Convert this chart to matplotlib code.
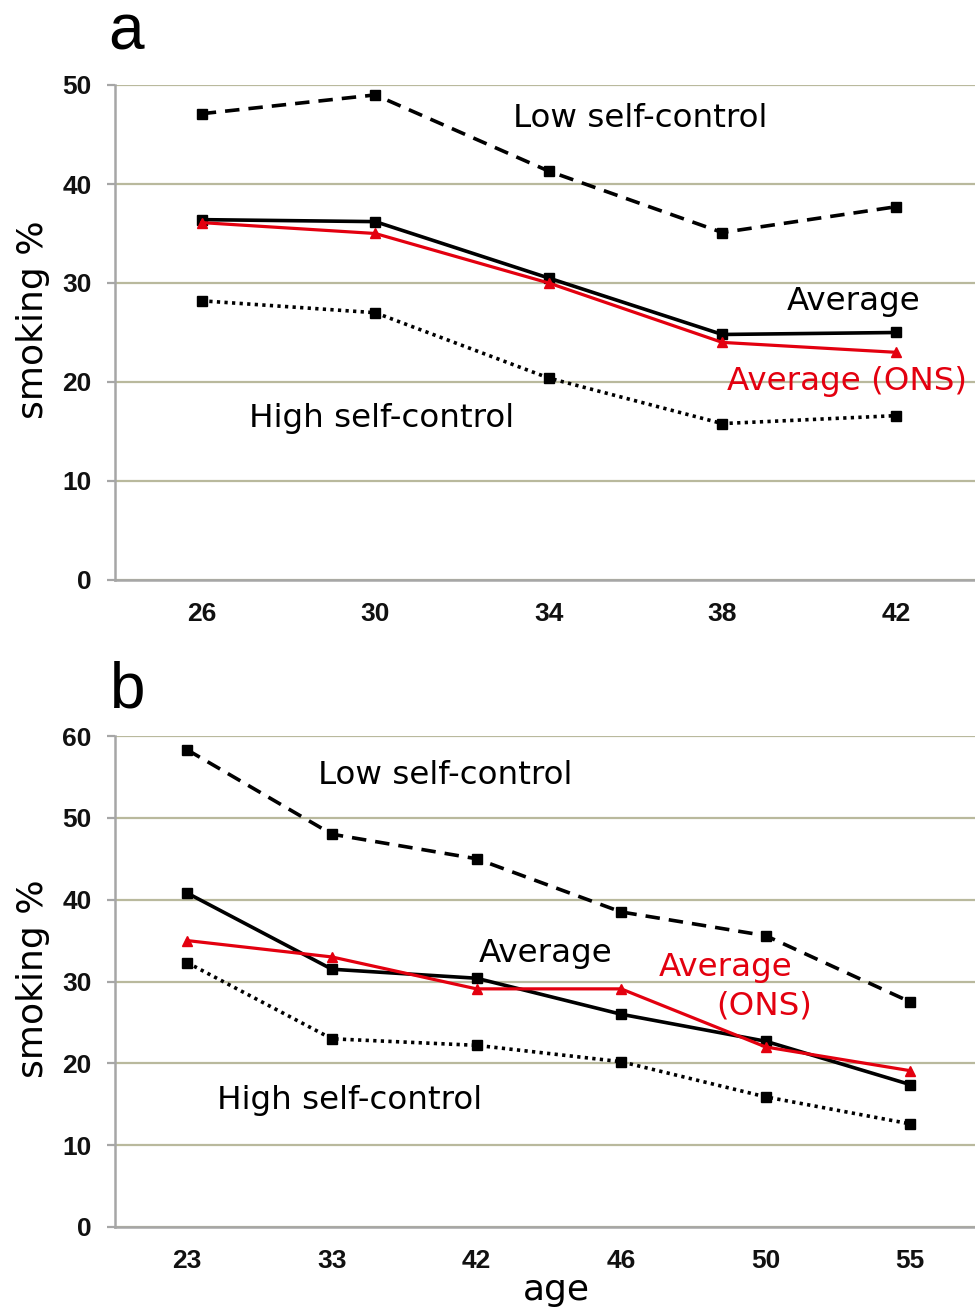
import matplotlib
matplotlib.use("Agg")
import matplotlib.pyplot as plt

# ---- data ----
ages_a = ["26", "30", "34", "38", "42"]
low_a = [47.1, 49.0, 41.3, 35.1, 37.7]
avg_a = [36.4, 36.2, 30.5, 24.8, 25.0]
ons_a = [36.1, 35.0, 30.0, 24.0, 23.0]
high_a = [28.2, 27.0, 20.4, 15.8, 16.6]

ages_b = ["23", "33", "42", "46", "50", "55"]
low_b = [58.3, 48.0, 45.0, 38.5, 35.6, 27.5]
avg_b = [40.8, 31.5, 30.4, 26.0, 22.7, 17.4]
ons_b = [35.0, 33.0, 29.1, 29.1, 22.0, 19.1]
high_b = [32.3, 23.0, 22.2, 20.2, 15.9, 12.6]

W, H = 975, 1308
fig = plt.figure(figsize=(W / 100, H / 100), dpi=100)

RED = "#e3000f"
GRID = "#b9b99d"
SPINE = "#a6a6a6"
TICKFONT = "Liberation Sans"
ANNFONT = "DejaVu Sans"


def make_axes(left, top, right, bottom):
    return fig.add_axes([left / W, 1 - bottom / H, (right - left) / W, (bottom - top) / H])


def style(ax, ymax, ncat, cat_px, label_y):
    ax.set_ylim(0, ymax)
    ax.set_xlim(-0.5, -0.5 + (975 - 115) / cat_px)
    ax.set_yticks(range(0, ymax + 1, 10))
    ax.yaxis.grid(True, color=GRID, linewidth=1.6)
    ax.set_axisbelow(True)
    for s in ["top", "right"]:
        ax.spines[s].set_visible(False)
    for s in ["left", "bottom"]:
        ax.spines[s].set_color(SPINE)
        ax.spines[s].set_linewidth(1.8)
    ax.tick_params(axis="y", length=6, width=1.6, color=SPINE, pad=11,
                   labelsize=19)
    ax.tick_params(axis="x", length=0, pad=16, labelsize=19)
    for lab in ax.get_xticklabels() + ax.get_yticklabels():
        lab.set_fontfamily(TICKFONT)
        lab.set_fontweight("bold")
        lab.set_color("#111111")
    ax.set_ylabel("smoking %", fontsize=26, family=ANNFONT)
    ax.yaxis.set_label_coords(-0.076, label_y)


def draw(ax, ages, low, avg, ons, high):
    ax.plot(ages, low, color="black", lw=2.6, ls=(0, (4, 2.5)), marker="s", ms=7.5)
    ax.plot(ages, high, color="black", lw=2.6, ls=(0, (0.9, 1.2)), marker="s", ms=7.5)
    ax.plot(ages, avg, color="black", lw=2.6, marker="s", ms=7.5)
    ax.plot(ages, ons, color=RED, lw=2.3, marker="^", ms=7.5)


tk = dict(fontsize=23.4, family=ANNFONT, va="center", ha="left")

# panel a
axa = make_axes(115, 85, 975, 580)
draw(axa, ages_a, low_a, avg_a, ons_a, high_a)
style(axa, 50, len(ages_a), 173.5, 0.525)
axa.text(1.794, 46.6, "Low self-control", **tk)
axa.text(3.373, 28.1, "Average", **tk)
axa.text(3.027, 20.1, "Average (ONS)", color=RED, **tk)
axa.text(0.272, 16.3, "High self-control", **tk)

# panel b
axb = make_axes(115, 736, 975, 1227)
draw(axb, ages_b, low_b, avg_b, ons_b, high_b)
style(axb, 60, len(ages_b), 144.6, 0.505)
axb.text(0.904, 55.2, "Low self-control", **tk)
axb.text(2.017, 33.4, "Average", **tk)
axb.text(3.262, 31.7, "Average", color=RED, **tk)
axb.text(3.656, 27.0, "(ONS)", color=RED, **tk)
axb.text(0.205, 15.5, "High self-control", **tk)
axb.set_xlabel("age", fontsize=26, family=ANNFONT)
axb.xaxis.set_label_coords(0.513, -0.093)

fig.text(108 / W, 1 - 50 / H, "a", fontsize=46, family=TICKFONT, va="baseline", ha="left")
fig.text(110 / W, 1 - 708 / H, "b", fontsize=46, family=TICKFONT, va="baseline", ha="left")

fig.savefig("out.png", dpi=100)
